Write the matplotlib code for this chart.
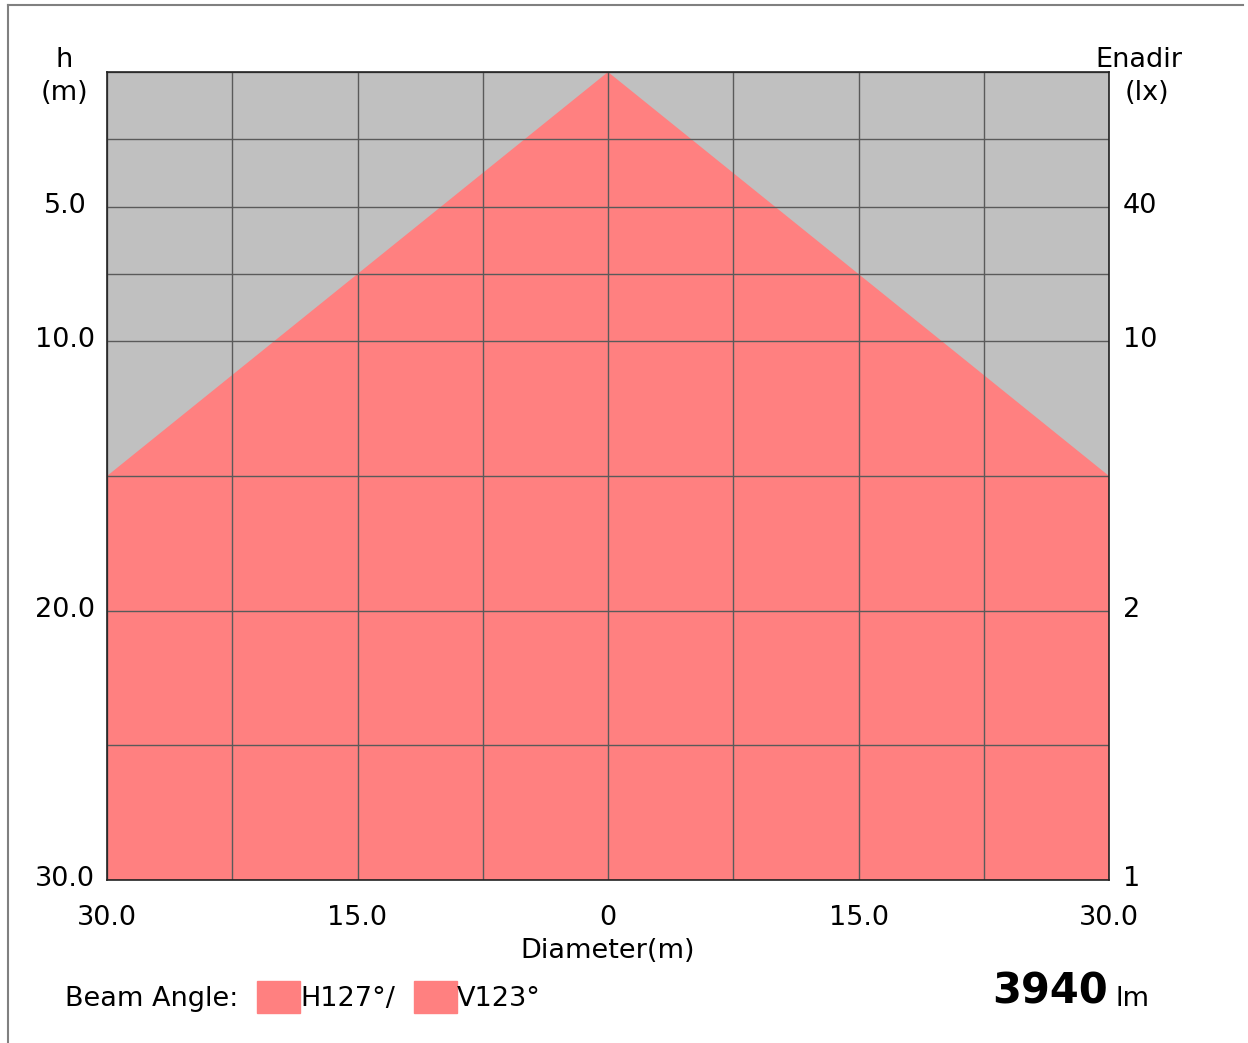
import matplotlib
matplotlib.use("Agg")
import matplotlib.pyplot as plt
from matplotlib.patches import Rectangle
from matplotlib.lines import Line2D
from matplotlib.transforms import ScaledTranslation

# beam outline (diameter m, height m)
beam_x = [-30, 0, 30, 30, -30]
beam_h = [15, 0, 15, 30, 30]

x_grid = [-30, -22.5, -15, -7.5, 0, 7.5, 15, 22.5, 30]
h_grid = [0, 2.5, 5, 7.5, 10, 15, 20, 25, 30]

x_ticks = [-30, -15, 0, 15, 30]
x_labels = ["30.0", "15.0", "0", "15.0", "30.0"]
h_ticks = [5, 10, 20, 30]
h_labels = ["5.0", "10.0", "20.0", "30.0"]
lux_labels = ["40", "10", "2", "1"]

beam_angle = "H127°/"
beam_angle2 = "V123°"
lumen = "3940"

red = "#ff8080"
gray = "#c0c0c0"
fs = 19.5

plt.rcParams["font.family"] = ["DejaVu Sans"]
W, H = 1248, 1043
fig = plt.figure(figsize=(W / 100, H / 100), dpi=100)
ax = fig.add_axes([107 / W, 1 - 880 / H, 1002 / W, 808 / H])
ax.set_facecolor(gray)
ax.fill(beam_x, beam_h, color=red, lw=0, zorder=1)
for x in x_grid:
    ax.axvline(x, color="#5a5a5a", lw=1, zorder=2)
for h in h_grid:
    ax.axhline(h, color="#5a5a5a", lw=1, zorder=2)
ax.set_xlim(-30, 30)
ax.set_ylim(30, 0)
for s in ax.spines.values():
    s.set_color("#222222")
    s.set_linewidth(1.2)

up = ScaledTranslation(0, 4 / 100, fig.dpi_scale_trans)

ax.set_xticks(x_ticks)
ax.set_xticklabels(x_labels, fontsize=fs)
ax.tick_params(axis="x", length=0, pad=18)
ax.set_xlabel("Diameter(m)", fontsize=fs, labelpad=5)

ax.set_yticks(h_ticks)
ax.set_yticklabels(h_labels, fontsize=fs, ha="center")
ax.tick_params(axis="y", length=0, pad=30)
for lab in ax.get_yticklabels():
    lab.set_transform(lab.get_transform() + up)

ax2 = ax.twinx()
ax2.set_ylim(30, 0)
ax2.set_yticks(h_ticks)
ax2.set_yticklabels(lux_labels, fontsize=fs)
ax2.tick_params(axis="y", length=0, pad=10)
for lab in ax2.get_yticklabels():
    lab.set_transform(lab.get_transform() + up)
for s in ax2.spines.values():
    s.set_visible(False)

fig.text(64 / W, 1 - 60 / H, "h", fontsize=fs, ha="center", va="center")
fig.text(64 / W, 1 - 93 / H, "(m)", fontsize=fs, ha="center", va="center")
fig.text(1139 / W, 1 - 60 / H, "Enadir", fontsize=fs, ha="center", va="center")
fig.text(1147 / W, 1 - 93 / H, "(lx)", fontsize=fs, ha="center", va="center")

# bottom legend
fig.text(65 / W, 1 - 999 / H, "Beam Angle:", fontsize=fs, ha="left", va="center")
fig.add_artist(Rectangle((257 / W, 1 - 1013 / H), 43 / W, 32 / H, color=red, transform=fig.transFigure))
fig.text(300 / W, 1 - 999 / H, beam_angle, fontsize=fs, ha="left", va="center")
fig.add_artist(Rectangle((414 / W, 1 - 1013 / H), 43 / W, 32 / H, color=red, transform=fig.transFigure))
fig.text(457 / W, 1 - 999 / H, beam_angle2, fontsize=fs, ha="left", va="center")
fig.text(1108 / W, 1 - 991 / H, lumen, fontsize=30, fontweight="bold", ha="right", va="center")
fig.text(1116 / W, 1 - 999 / H, "lm", fontsize=fs, ha="left", va="center")

# outer frame (top and left only)
fig.add_artist(Line2D([8 / W, 1243 / W], [1 - 5 / H, 1 - 5 / H], color="#808080", lw=1.5, transform=fig.transFigure))
fig.add_artist(Line2D([8 / W, 8 / W], [1 - 5 / H, 1 - 1043 / H], color="#808080", lw=1.5, transform=fig.transFigure))

fig.savefig("out.png", dpi=100)
